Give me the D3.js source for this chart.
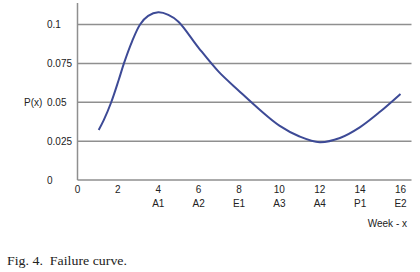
<!DOCTYPE html>
<html><head><meta charset="utf-8">
<script src="https://cdn.jsdelivr.net/npm/d3@7"></script>
<style>body{margin:0;background:#fff}svg{display:block}</style>
</head><body>
<script>
const weeks = [1.05, 1.3, 1.67, 2.04, 2.3, 2.7, 3.1, 3.5, 4, 4.5, 5, 6, 7, 8, 9, 10, 11, 12, 13, 14, 15, 16];
const pValues = [0.0322, 0.0385, 0.050, 0.0643, 0.075, 0.089, 0.1, 0.1055, 0.1078, 0.1062, 0.1018, 0.085, 0.0695, 0.0573, 0.0455, 0.035, 0.028, 0.0243, 0.027, 0.034, 0.044, 0.0553];
const xTicks = [0, 2, 4, 6, 8, 10, 12, 14, 16];
const xSubLabels = ["", "", "A1", "A2", "E1", "A3", "A4", "P1", "E2"];
const yTicks = [0, 0.025, 0.05, 0.075, 0.1];
const yTickLabels = ["0", "0.025", "0.05", "0.075", "0.1"];

const W = 420, H = 272;
const svg = d3.select("body").append("svg").attr("width", W).attr("height", H);
svg.append("rect").attr("width", W).attr("height", H).attr("fill", "#fff");

const x = d3.scaleLinear().domain([0, 16]).range([77.5, 400.5]);
const y = d3.scaleLinear().domain([0, 0.1]).range([180, 24.5]);
const font = "'Liberation Sans', Arial, sans-serif";
const gridColor = "#8f8f8f";

svg.append("g").selectAll("line").data(yTicks.filter(d => d > 0)).join("line")
  .attr("x1", x(0)).attr("x2", 411.5)
  .attr("y1", d => y(d)).attr("y2", d => y(d))
  .attr("stroke", gridColor).attr("stroke-width", 1.5);

svg.append("line").attr("x1", x(0)).attr("x2", 411.5).attr("y1", y(0)).attr("y2", y(0))
  .attr("stroke", gridColor).attr("stroke-width", 1.5);
svg.append("line").attr("x1", x(0)).attr("x2", x(0)).attr("y1", 3).attr("y2", y(0))
  .attr("stroke", gridColor).attr("stroke-width", 1.5);

svg.append("g").selectAll("text").data(yTicks).join("text")
  .attr("x", 47).attr("y", d => y(d)).attr("dy", "0.35em")
  .attr("font-family", font).attr("font-size", 10).attr("fill", "#222")
  .text((d, i) => yTickLabels[i]);

svg.append("text").attr("x", 24).attr("y", y(0.05)).attr("dy", "0.35em")
  .attr("font-family", font).attr("font-size", 10).attr("fill", "#222").text("P(x)");

const xl = svg.append("g");
xl.selectAll("text.n").data(xTicks).join("text").attr("class", "n")
  .attr("x", d => x(d)).attr("y", 189).attr("dy", "0.35em").attr("text-anchor", "middle")
  .attr("font-family", font).attr("font-size", 10).attr("fill", "#222").text(d => d);
xl.selectAll("text.s").data(xTicks).join("text").attr("class", "s")
  .attr("x", d => x(d)).attr("y", 203.5).attr("dy", "0.35em").attr("text-anchor", "middle")
  .attr("font-family", font).attr("font-size", 10).attr("fill", "#222").text((d, i) => xSubLabels[i]);

svg.append("text").attr("x", 407).attr("y", 223).attr("dy", "0.35em").attr("text-anchor", "end")
  .attr("font-family", font).attr("font-size", 10).attr("fill", "#222").text("Week - x");

const line = d3.line().x(d => x(d[0])).y(d => y(d[1])).curve(d3.curveCatmullRom.alpha(0.5));
svg.append("path").datum(weeks.map((w, i) => [w, pValues[i]]))
  .attr("d", line).attr("fill", "none").attr("stroke", "#3d4a96").attr("stroke-width", 2);

svg.append("text").attr("x", 7).attr("y", 265)
  .attr("font-family", "'Liberation Serif', 'Times New Roman', serif").attr("font-size", 12.5).attr("fill", "#222")
  .attr("textLength", 120).attr("lengthAdjust", "spacingAndGlyphs")
  .attr("xml:space", "preserve").text("Fig. 4.  Failure curve.");
</script>
</body></html>
